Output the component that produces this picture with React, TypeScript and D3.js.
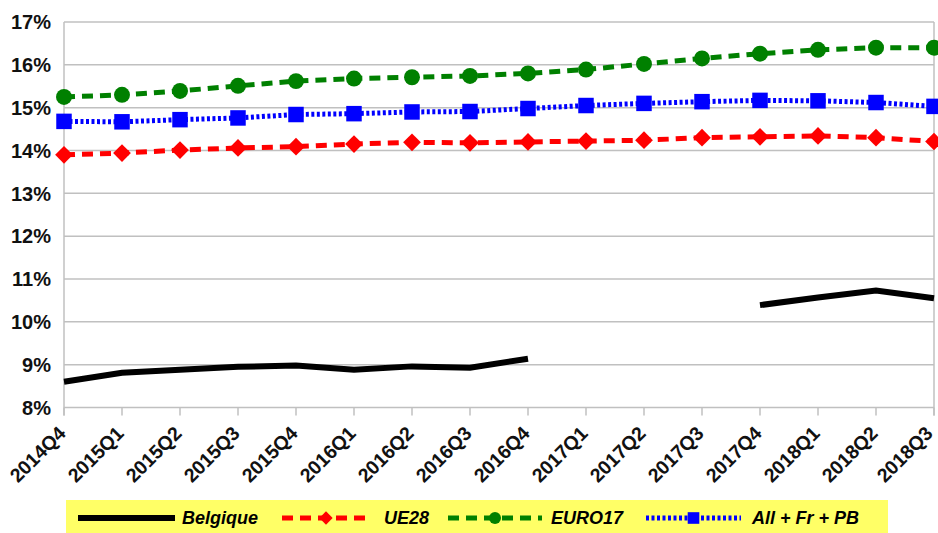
import * as d3 from "d3";

const quarters = [
  "2014Q4", "2015Q1", "2015Q2", "2015Q3", "2015Q4", "2016Q1", "2016Q2", "2016Q3",
  "2016Q4", "2017Q1", "2017Q2", "2017Q3", "2017Q4", "2018Q1", "2018Q2", "2018Q3",
];
const belgique = [8.6, 8.81, 8.88, 8.95, 8.98, 8.88, 8.96, 8.93, 9.14, null, null, null, 10.39, 10.57, 10.73, 10.55];
const ue28 = [13.9, 13.94, 14.01, 14.06, 14.09, 14.15, 14.19, 14.18, 14.2, 14.22, 14.24, 14.3, 14.32, 14.34, 14.3, 14.21];
const euro17 = [15.25, 15.3, 15.39, 15.51, 15.62, 15.68, 15.71, 15.74, 15.8, 15.89, 16.02, 16.15, 16.26, 16.35, 16.4, 16.4];
const allFrPb = [14.68, 14.67, 14.72, 14.76, 14.84, 14.86, 14.9, 14.91, 14.98, 15.05, 15.1, 15.14, 15.17, 15.16, 15.12, 15.03];
const yTicks = [8, 9, 10, 11, 12, 13, 14, 15, 16, 17];

const width = 938;
const height = 533;
const left = 64;
const right = 934;
const top = 22;
const bottom = 407.5;
const font = "'Liberation Sans', Arial, sans-serif";

const App = () => {
  const x = d3.scalePoint<string>().domain(quarters).range([left, right]);
  const y = d3.scaleLinear().domain([8, 17]).range([bottom, top]);

  const line = d3
    .line<number | null>()
    .defined((d) => d != null)
    .x((_, i) => x(quarters[i]) as number)
    .y((d) => y(d as number));

  const diamond = d3.symbol().type(d3.symbolDiamond2).size(200)();
  const circle = d3.symbol().type(d3.symbolCircle).size(200)();
  const square = d3.symbol().type(d3.symbolSquare).size(240)();

  const series = [
    { name: "Belgique", data: belgique, color: "#000000", width: 6, dash: "", marker: null },
    { name: "UE28", data: ue28, color: "#ff0000", width: 5, dash: "11,7", marker: diamond },
    { name: "EURO17", data: euro17, color: "#008000", width: 5, dash: "11,7", marker: circle },
    { name: "All + Fr + PB", data: allFrPb, color: "#0000ff", width: 5, dash: "3,2.5", marker: square },
  ];

  const legendPos = [
    { x1: 78, x2: 175, tx: 182 },
    { x1: 282, x2: 370, tx: 384 },
    { x1: 448, x2: 542, tx: 551 },
    { x1: 646, x2: 741, tx: 752 },
  ];

  return (
    <svg width={width} height={height} style={{ position: "absolute", left: 0, top: 0 }}>
      <rect width={width} height={height} fill="#fff" />
      {yTicks.map((t) => (
        <g key={t}>
          <line x1={left} x2={right} y1={y(t)} y2={y(t)} stroke="#c0c0c0" strokeWidth={1.5} />
          <text x={51} y={y(t)} dy="0.36em" textAnchor="end" fontFamily={font} fontWeight="bold" fontSize={20} fill="#111">
            {t}%
          </text>
        </g>
      ))}
      <line x1={left} x2={left} y1={top} y2={bottom + 8} stroke="#c0c0c0" strokeWidth={1.5} />
      <line x1={right} x2={right} y1={top} y2={bottom + 8} stroke="#c0c0c0" strokeWidth={1.5} />
      {quarters.map((q, i) => (
        <g key={q}>
          <line x1={x(q)} x2={x(q)} y1={bottom} y2={bottom + 8} stroke="#c0c0c0" strokeWidth={1.5} />
          <text
            transform={`translate(${(x(q) as number) + (i === quarters.length - 1 ? 0 : 3)},${bottom + 27}) rotate(-45)`}
            textAnchor="end"
            fontFamily={font}
            fontWeight="bold"
            fontSize={19.5}
            fill="#111"
          >
            {q}
          </text>
        </g>
      ))}
      {series.map((s) => (
        <g key={s.name}>
          <path d={line(s.data) || ""} fill="none" stroke={s.color} strokeWidth={s.width} strokeDasharray={s.dash} />
          {s.marker &&
            s.data.map((v, i) =>
              v == null ? null : (
                <path key={i} d={s.marker as string} transform={`translate(${x(quarters[i])},${y(v)})`} fill={s.color} />
              )
            )}
        </g>
      ))}
      <rect x={66} y={500} width={822} height={33} fill="#ffff66" />
      {series.map((s, i) => {
        const p = legendPos[i];
        const mid = (p.x1 + p.x2) / 2;
        return (
          <g key={s.name}>
            <line x1={p.x1} x2={p.x2} y1={518} y2={518} stroke={s.color} strokeWidth={s.width} strokeDasharray={s.dash} />
            {s.marker && <path d={s.marker} transform={`translate(${mid},518) scale(0.75)`} fill={s.color} />}
            <text x={p.tx} y={518} dy="0.36em" fontFamily={font} fontWeight="bold" fontStyle="italic" fontSize={18} fill="#000">
              {s.name}
            </text>
          </g>
        );
      })}
    </svg>
  );
};

export default App;
